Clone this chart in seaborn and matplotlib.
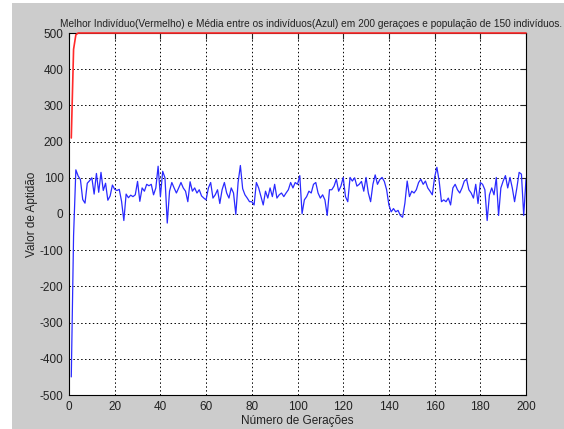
import numpy as np
import matplotlib
matplotlib.use("Agg")
import matplotlib.pyplot as plt
import pandas as pd
import seaborn as sns
from matplotlib.patches import Rectangle
from matplotlib import font_manager

# valores (geracoes 1..200)
melhor = [210, 455, 495] + [500] * 197

media = [
    -450, -60, 122, 105, 95, 40, 30, 85, 92, 100,
    55, 112, 60, 115, 65, 85, 38, 50, 80, 68,
    65, 68, 35, -18, 55, 45, 52, 48, 53, 90,
    35, 72, 63, 82, 78, 82, 53, 72, 132, 48,
    118, 100, -25, 63, 87, 72, 58, 72, 87, 72,
    63, 34, 89, 63, 72, 58, 67, 50, 44, 39,
    72, 87, 44, 53, 67, 29, 67, 87, 58, 44,
    72, 58, -1, 87, 134, 70, 53, 44, 34, 34,
    25, 87, 72, 48, 25, 63, 44, 72, 48, 82,
    44, 53, 58, 48, 58, 67, 87, 72, 87, 82,
    106, 1, 39, 48, 63, 58, 82, 87, 58, 44,
    53, 39, -4, 67, 67, 77, 96, 63, 77, 101,
    48, 34, 101, 91, 100, 77, 82, 90, 63, 101,
    58, 34, 82, 108, 82, 95, 101, 90, 67, 25,
    6, 15, 6, 10, -4, -9, 30, 91, 48, 63,
    58, 67, 87, 96, 82, 91, 72, 63, 53, 101,
    129, 91, 34, 39, 34, 44, 25, 72, 82, 67,
    58, 72, 91, 96, 67, 58, 44, 82, 29, 87,
    82, 67, -18, 53, 72, 53, 101, -4, 72, 91,
    106, 72, 101, 72, 34, 72, 115, 110, -4, 96,
]
geracoes = np.arange(1, len(media) + 1)

df = pd.DataFrame({"geracao": geracoes, "melhor": melhor, "media": media})

sns.set_style("white")
plt.rcParams['font.family'] = ['Liberation Sans', 'DejaVu Sans']
plt.rcParams['axes.unicode_minus'] = False

# fonte estreita para o titulo, se existir
nomes = {f.name for f in font_manager.fontManager.ttflist}
if "Liberation Sans Narrow" in nomes:
    fonte_titulo, tam_titulo = "Liberation Sans Narrow", 9.0
else:
    fonte_titulo, tam_titulo = "Liberation Sans", 7.3

fig = plt.figure(figsize=(5.64, 4.29), dpi=100)
fig.patch.set_facecolor("white")
# fundo cinza estilo MATLAB
fig.patches.append(Rectangle((12 / 564, 0), 1, 1 - 3 / 429, transform=fig.transFigure,
                             facecolor="#cccccc", edgecolor="none", zorder=-10))

ax = fig.add_axes([69 / 564, 1 - 395 / 429, (526 - 69) / 564, (395 - 33) / 429])
ax.set_facecolor("white")

sns.lineplot(data=df, x="geracao", y="melhor", color="#ff2a2a", lw=1.2, ax=ax, estimator=None)
sns.lineplot(data=df, x="geracao", y="media", color="#2a2aff", lw=0.9, ax=ax, estimator=None)
# linha vermelha por cima da borda superior, como no original
ax.lines[0].set_zorder(3)
ax.lines[0].set_clip_on(False)

ax.set_xlim(0, 200)
ax.set_ylim(-500, 500)
ax.set_xticks(range(0, 201, 20))
ax.set_yticks(range(-500, 501, 100))
ax.grid(True, color="black", linestyle=(0, (1.5, 2.5)), linewidth=0.7)
ax.tick_params(direction="in", length=4, top=True, right=True, labelsize=8.5,
               colors="#222222", pad=4)
for s in ax.spines.values():
    s.set_color("black")
    s.set_linewidth(0.8)

ax.set_title("Melhor Indivíduo(Vermelho) e Média entre os indivíduos(Azul) em 200 geraçoes "
             "e população de 150 indivíduos.", fontsize=tam_titulo, family=fonte_titulo,
             pad=4, x=0.53, color="#222222")
ax.set_xlabel("Número de Gerações", fontsize=8.5, labelpad=2, color="#222222")
ax.set_ylabel("Valor de Aptidão", fontsize=8.5, labelpad=1, color="#222222")

fig.savefig("out.png", dpi=100, facecolor=fig.get_facecolor())
